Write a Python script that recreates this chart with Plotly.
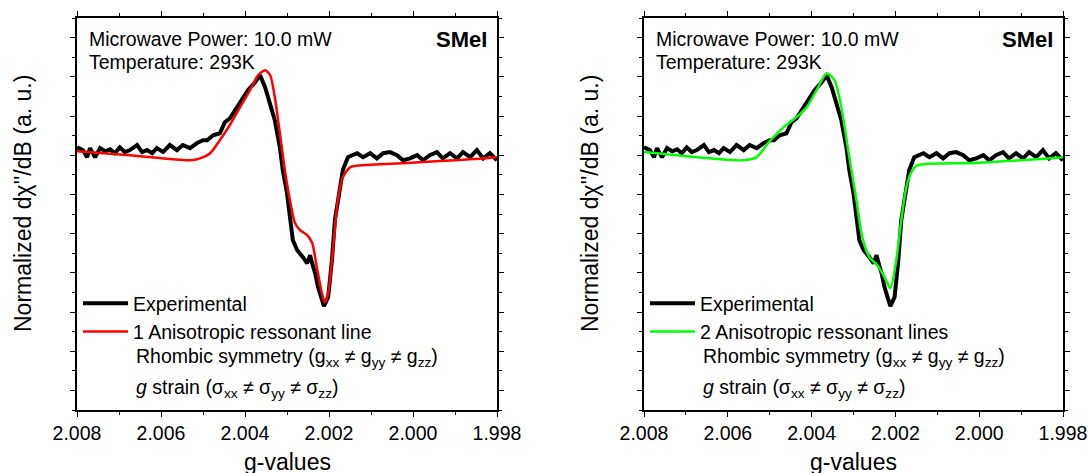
import plotly.graph_objects as go

W, H = 1091, 473
FONT = "Arial, Liberation Sans, sans-serif"

# ---------------- data ----------------
g_exp = [2.00800, 2.00786, 2.00776, 2.00769, 2.00757, 2.00745, 2.00733, 2.00721, 2.00710, 2.00698,
         2.00686, 2.00674, 2.00657, 2.00645, 2.00633, 2.00621, 2.00610, 2.00595, 2.00579, 2.00562,
         2.00548, 2.00531, 2.00514, 2.00500, 2.00490, 2.00476, 2.00460, 2.00448, 2.00436, 2.00419,
         2.00407, 2.00393, 2.00376, 2.00364, 2.00352, 2.00340, 2.00329, 2.00317, 2.00310, 2.00300,
         2.00293, 2.00286, 2.00276, 2.00269, 2.00262, 2.00252, 2.00245, 2.00240, 2.00233, 2.00226,
         2.00217, 2.00212, 2.00202, 2.00193, 2.00186, 2.00174, 2.00167, 2.00155, 2.00133, 2.00119,
         2.00102, 2.00086, 2.00071, 2.00055, 2.00038, 2.00024, 2.00007, 1.99990, 1.99976, 1.99960,
         1.99943, 1.99929, 1.99912, 1.99895, 1.99881, 1.99864, 1.99848, 1.99833, 1.99817, 1.99800]
i_exp = [0.20, 0.13, -0.05, 0.18, -0.05, 0.18, 0.10, 0.15, 0.05, 0.20,
         0.08, 0.13, 0.26, 0.08, 0.13, 0.05, 0.18, 0.08, 0.26, 0.13,
         0.26, 0.18, 0.31, 0.38, 0.38, 0.51, 0.56, 0.84, 0.94, 1.22,
         1.45, 1.66, 1.86, 2.04, 1.73, 1.33, 0.89, 0.20, -0.38, -0.97,
         -1.58, -2.17, -2.42, -2.50, -2.60, -2.76, -2.55, -2.76, -3.01, -3.37,
         -3.70, -3.85, -3.62, -2.68, -1.66, -0.82, -0.38, -0.05, 0.05, -0.05,
         0.05, -0.08, 0.05, 0.08, 0.00, -0.13, -0.08, 0.00, -0.13, 0.00,
         0.08, -0.08, 0.05, -0.08, 0.08, -0.05, 0.13, -0.08, 0.05, -0.13]

g_fit1 = [2.00800, 2.00674, 2.00531, 2.00507, 2.00483, 2.00460, 2.00436, 2.00412, 2.00388, 2.00369,
          2.00352, 2.00340, 2.00329, 2.00317, 2.00305, 2.00293, 2.00281, 2.00269, 2.00252, 2.00240,
          2.00229, 2.00217, 2.00210, 2.00202, 2.00190, 2.00179, 2.00167, 2.00150, 2.00126, 2.00014,
          1.99936, 1.99857, 1.99800]
i_fit1 = [0.10, 0.00, -0.13, -0.08, 0.05, 0.38, 0.77, 1.22, 1.66, 2.04,
          2.17, 2.04, 1.48, 0.56, -0.38, -1.15, -1.73, -1.91, -2.04, -2.24,
          -2.86, -3.52, -3.75, -3.52, -2.35, -1.15, -0.56, -0.31, -0.26, -0.20,
          -0.15, -0.10, -0.05]

g_fit2 = [2.00800, 2.00674, 2.00562, 2.00531, 2.00500, 2.00469, 2.00436, 2.00412, 2.00388, 2.00364,
          2.00345, 2.00329, 2.00310, 2.00293, 2.00279, 2.00262, 2.00243, 2.00226, 2.00212, 2.00198,
          2.00186, 2.00174, 2.00162, 2.00148, 2.00014, 1.99936, 1.99857, 1.99800]
i_fit2 = [0.08, -0.05, -0.13, -0.05, 0.36, 0.69, 0.97, 1.22, 1.66, 2.09,
          1.91, 1.22, -0.05, -1.15, -2.09, -2.60, -2.81, -3.11, -3.39, -2.68,
          -1.66, -0.82, -0.43, -0.26, -0.20, -0.15, -0.10, -0.05]

x_tickvals = [2.008, 2.006, 2.004, 2.002, 2.000, 1.998]
x_ticktext = ["2.008", "2.006", "2.004", "2.002", "2.000", "1.998"]

fit_names = ["1 Anisotropic ressonant line", "2 Anisotropic ressonant lines"]
fit_colors = ["#ff0000", "#00ff00"]

# ---------------- figure ----------------
fig = go.Figure()

# left panel
fig.add_trace(go.Scatter(x=g_exp, y=i_exp, mode="lines", name="Experimental",
                         line=dict(color="black", width=4), xaxis="x", yaxis="y",
                         legend="legend"))
fig.add_trace(go.Scatter(x=g_fit1, y=i_fit1, mode="lines", name=fit_names[0],
                         line=dict(color=fit_colors[0], width=2.5, shape="spline", smoothing=0.7),
                         xaxis="x", yaxis="y", legend="legend"))
# right panel
fig.add_trace(go.Scatter(x=g_exp, y=i_exp, mode="lines", name="Experimental",
                         line=dict(color="black", width=4), xaxis="x2", yaxis="y2",
                         legend="legend2"))
fig.add_trace(go.Scatter(x=g_fit2, y=i_fit2, mode="lines", name=fit_names[1],
                         line=dict(color=fit_colors[1], width=2.5, shape="spline", smoothing=0.7),
                         xaxis="x2", yaxis="y2", legend="legend2"))

ydom = [1 - 410 / H, 1 - 18 / H]
panels = [(77, 497), (644, 1063)]


def xaxis_cfg(x0, x1, anchor):
    return dict(domain=[x0 / W, x1 / W], range=[2.008, 1.998], anchor=anchor,
                tickvals=x_tickvals, ticktext=x_ticktext,
                ticks="outside", ticklen=5, tickwidth=1.3, tickcolor="black",
                minor=dict(dtick=0.001, tick0=2.0, ticks="outside", ticklen=3,
                           tickwidth=1.3, tickcolor="black"),
                showline=True, linecolor="black", linewidth=1.5, mirror="allticks",
                showgrid=False, zeroline=False,
                tickfont=dict(family=FONT, size=19.5, color="black"),
                automargin=False)


def yaxis_cfg(anchor):
    return dict(domain=ydom, range=[-6.5, 3.5], anchor=anchor,
                dtick=1, tick0=0, showticklabels=False,
                ticks="outside", ticklen=5, tickwidth=1.3, tickcolor="black",
                minor=dict(dtick=0.5, tick0=0, ticks="outside", ticklen=3,
                           tickwidth=1.3, tickcolor="black"),
                showline=True, linecolor="black", linewidth=1.5, mirror="allticks",
                showgrid=False, zeroline=False, automargin=False)


legend_common = dict(font=dict(family=FONT, size=19.5, color="black"),
                     bgcolor="rgba(0,0,0,0)", borderwidth=0, xanchor="left", yanchor="top",
                     tracegroupgap=0, itemwidth=45)

fig.update_layout(
    width=W, height=H,
    margin=dict(l=0, r=0, t=0, b=0),
    paper_bgcolor="white", plot_bgcolor="white",
    font=dict(family=FONT, color="black"),
    xaxis=xaxis_cfg(*panels[0], "y"),
    yaxis=yaxis_cfg("x"),
    xaxis2=xaxis_cfg(*panels[1], "y2"),
    yaxis2=yaxis_cfg("x2"),
    legend=dict(x=78 / W, y=1 - 284 / H, **legend_common),
    legend2=dict(x=645 / W, y=1 - 284 / H, **legend_common),
)

annotations = []
for k, (x0, x1) in enumerate(panels):
    off = x0 - 77
    txt = dict(family=FONT, size=19.5, color="black")
    annotations += [
        dict(text="Microwave Power: 10.0 mW", x=(87 + off) / W, y=1 - 39 / H,
             xanchor="left", yanchor="middle", font=txt),
        dict(text="Temperature: 293K", x=(87 + off) / W, y=1 - 62 / H,
             xanchor="left", yanchor="middle", font=txt),
        dict(text="<b>SMeI</b>", x=(x1 - 8) / W, y=1 - 39 / H,
             xanchor="right", yanchor="middle", font=dict(family=FONT, size=22, color="black")),
        dict(text="Rhombic symmetry (g<sub>xx</sub> ≠ g<sub>yy</sub> ≠ g<sub>zz</sub>)",
             x=(134 + off) / W, y=1 - 357 / H, xanchor="left", yanchor="middle", font=txt),
        dict(text="<i>g</i> strain (σ<sub>xx</sub> ≠ σ<sub>yy</sub> ≠ σ<sub>zz</sub>)",
             x=(134 + off) / W, y=1 - 388 / H, xanchor="left", yanchor="middle", font=txt),
        dict(text="g-values", x=(x0 + x1) / 2 / W, y=1 - 462 / H,
             xanchor="center", yanchor="middle", font=dict(family=FONT, size=23, color="black")),
        dict(text="Normalized dχ''/dB (a. u.)", x=(23 + off) / W, y=1 - 204 / H,
             xanchor="center", yanchor="middle", textangle=-90,
             font=dict(family=FONT, size=23, color="black")),
    ]
for a in annotations:
    a.update(xref="paper", yref="paper", showarrow=False)
fig.update_layout(annotations=annotations)

fig.write_html("out.html")
